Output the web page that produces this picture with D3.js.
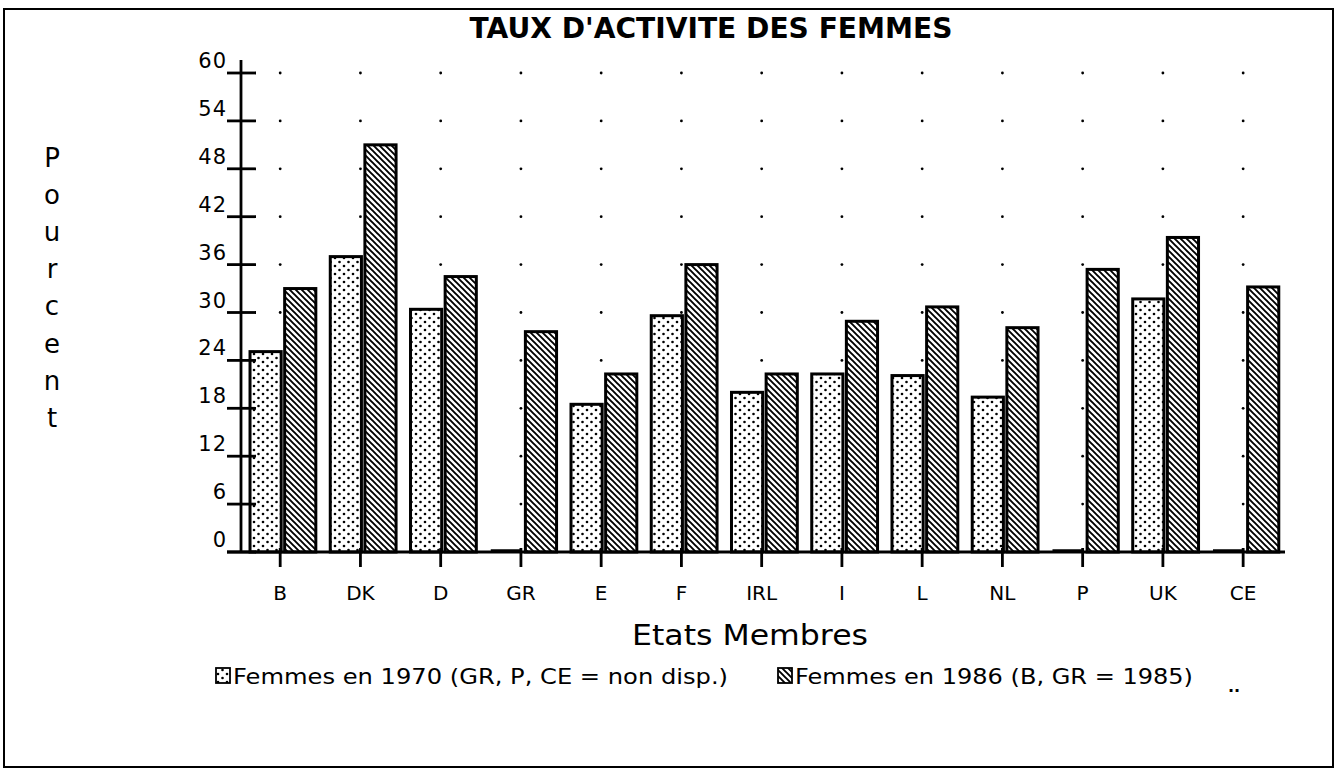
<!DOCTYPE html>
<html><head><meta charset="utf-8">
<script src="https://cdn.jsdelivr.net/npm/d3@7"></script>
<style>html,body{margin:0;padding:0;background:#fff}svg{display:block}</style>
</head><body>
<script>
const categories = ["B","DK","D","GR","E","F","IRL","I","L","NL","P","UK","CE"];
const series = ["1970","1986"];
const values1970 = [25.1, 37.0, 30.4, null, 18.5, 29.6, 20.0, 22.3, 22.1, 19.4, null, 31.7, null];
const values1986 = [33.0, 51.0, 34.5, 27.6, 22.3, 36.0, 22.3, 28.9, 30.7, 28.1, 35.4, 39.4, 33.2];
const yTicks = [0, 6, 12, 18, 24, 30, 36, 42, 48, 54, 60];
const title = "TAUX D'ACTIVITE DES FEMMES";
const xTitle = "Etats Membres";
const yTitle = "Pourcent";
const legendLabels = ["Femmes en 1970 (GR, P, CE = non disp.)", "Femmes en 1986 (B, GR = 1985)"];

const W = 1340, H = 771;
const svg = d3.select("body").append("svg").attr("width", W).attr("height", H);
const defs = svg.append("defs");

// patterns
const pDot = defs.append("pattern").attr("id","dots").attr("patternUnits","userSpaceOnUse")
  .attr("width",9).attr("height",8);
pDot.append("rect").attr("width",9).attr("height",8).attr("fill","#fff");
pDot.append("circle").attr("cx",2).attr("cy",2).attr("r",1.3).attr("fill","#000");
pDot.append("circle").attr("cx",6.5).attr("cy",6).attr("r",1.3).attr("fill","#000");

const pHatch = defs.append("pattern").attr("id","hatch").attr("patternUnits","userSpaceOnUse")
  .attr("width",6).attr("height",6);
pHatch.append("rect").attr("width",6).attr("height",6).attr("fill","#fff");
pHatch.append("path").attr("d","M-1,-1 L7,7 M-4,2 L4,10 M2,-4 L10,4")
  .attr("stroke","#000").attr("stroke-width",1.9);

const fills = {"1970":"url(#dots)", "1986":"url(#hatch)"};

// frame
svg.append("rect").attr("x",4).attr("y",9).attr("width",1329).attr("height",758)
  .attr("fill","none").attr("stroke","#000").attr("stroke-width",2);

const y = d3.scaleLinear().domain([0,60]).range([552,73]);
const x0 = d3.scaleBand().domain(categories).range([242.8, 1286]).paddingInner(0.18).paddingOuter(0.09);
const x1 = d3.scaleBand().domain(series).range([0, x0.bandwidth()]).paddingInner(0.1);
const tickX = c => x0(c) + x1.bandwidth() - 1;

const axisLeftX = 241;
const font = "'DejaVu Sans', sans-serif";

// grid dots
const g = svg.append("g");
yTicks.filter(t => t > 0).forEach(t => {
  categories.forEach(c => {
    g.append("circle").attr("cx", tickX(c)).attr("cy", y(t)).attr("r", 1.4).attr("fill","#000");
  });
});

// bars
const rows = categories.map((c,i) => ({c, v: {"1970": values1970[i], "1986": values1986[i]}}));
const bars = svg.append("g");
rows.forEach(r => {
  series.forEach(s => {
    const v = r.v[s];
    const xx = x0(r.c) + x1(s);
    if (v == null) {
      bars.append("line").attr("x1", xx).attr("x2", xx + x1.bandwidth())
        .attr("y1", y(0) - 1).attr("y2", y(0) - 1).attr("stroke","#000").attr("stroke-width",3.5);
    } else {
      bars.append("rect").attr("x", xx).attr("y", y(v)).attr("width", x1.bandwidth())
        .attr("height", y(0) - y(v)).attr("fill", fills[s]).attr("stroke","#000").attr("stroke-width",3);
    }
  });
});

// y axis
svg.append("line").attr("x1",axisLeftX).attr("x2",axisLeftX).attr("y1",y(0)).attr("y2",y(60)-13)
  .attr("stroke","#000").attr("stroke-width",2.8);
yTicks.forEach(t => {
  svg.append("line").attr("x1",axisLeftX-14).attr("x2",axisLeftX+15).attr("y1",y(t)).attr("y2",y(t))
    .attr("stroke","#000").attr("stroke-width",2.8);
  svg.append("text").attr("x",axisLeftX-14).attr("y",y(t)-5).attr("text-anchor","end")
    .attr("font-family",font).attr("font-size",21).attr("letter-spacing",1).attr("fill","#000").text(t);
});

// x axis
svg.append("line").attr("x1",axisLeftX-14).attr("x2",1285).attr("y1",y(0)).attr("y2",y(0))
  .attr("stroke","#000").attr("stroke-width",2.8);
categories.forEach(c => {
  svg.append("line").attr("x1",tickX(c)).attr("x2",tickX(c)).attr("y1",y(0)-4).attr("y2",y(0)+15)
    .attr("stroke","#000").attr("stroke-width",2.8);
  svg.append("text").attr("x",tickX(c)).attr("y",600).attr("text-anchor","middle")
    .attr("font-family",font).attr("font-size",20).attr("fill","#000").text(c);
});

// titles
svg.append("text").attr("x",711).attr("y",38).attr("text-anchor","middle")
  .attr("font-family",font).attr("font-weight","bold").attr("font-size",28)
  .attr("textLength",483).attr("lengthAdjust","spacingAndGlyphs").text(title);
svg.append("text").attr("x",750).attr("y",645).attr("text-anchor","middle")
  .attr("font-family",font).attr("font-size",29).attr("textLength",236)
  .attr("lengthAdjust","spacingAndGlyphs").text(xTitle);
const yt = svg.append("text").attr("font-family",font).attr("font-size",26).attr("text-anchor","middle");
yTitle.split("").forEach((ch,i) => {
  yt.append("tspan").attr("x",52).attr("y",167 + i*37.1).text(ch);
});

// legend
const legX = [216, 778];
const legW = [495, 398];
series.forEach((s,i) => {
  svg.append("rect").attr("x",legX[i]).attr("y",668).attr("width",14).attr("height",15)
    .attr("fill",fills[s]).attr("stroke","#000").attr("stroke-width",1.8);
  svg.append("text").attr("x",legX[i]+17).attr("y",684).attr("font-family",font).attr("font-size",21)
    .attr("textLength",legW[i]).attr("lengthAdjust","spacingAndGlyphs").text(legendLabels[i]);
});
svg.append("text").attr("x",1228).attr("y",692).attr("font-family",font).attr("font-size",16)
  .attr("font-weight","bold").text("..");
</script>
</body></html>
